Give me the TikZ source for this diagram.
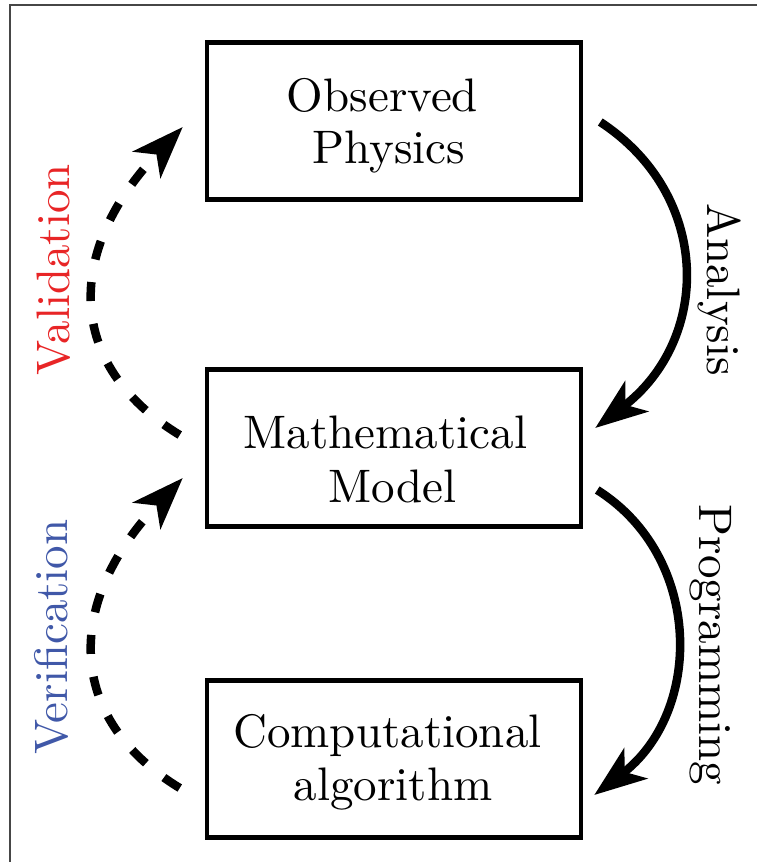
\documentclass[tikz,border=0pt]{standalone}
\usepackage{fontspec}
\setmainfont{lmroman10-regular.otf}
\usetikzlibrary{arrows.meta,calc}
\definecolor{valred}{RGB}{232,37,38}
\definecolor{verblue}{RGB}{64,88,168}
\definecolor{framegray}{RGB}{70,70,70}
\tikzset{
  box/.style={draw, line width=4.5pt, minimum width=374pt, minimum height=157pt, inner sep=0pt},
  lbl/.style={inner sep=0pt, anchor=base, font=\fontsize{47}{53}\selectfont},
  sidelbl/.style={inner sep=0pt, anchor=base, font=\fontsize{47}{53}\selectfont},
  solidarrow/.style={line width=8.5pt, -{Stealth[length=52pt, width=38pt, inset=14pt]}},
  dasharrow/.style={line width=8.5pt, dash pattern=on 19pt off 23pt, -{Stealth[length=52pt, width=38pt, inset=14pt]}},
}
\begin{document}
\begin{tikzpicture}[x=1pt,y=-1pt]
\useasboundingbox (0,0) rectangle (757,862);
\draw[framegray, line width=2pt] (10,870) -- (10,5) -- (765,5);

\node[box] (obs) at (394,121) {};
\node[box] (mat) at (394,448) {};
\node[box] (com) at (394,759) {};

\node[lbl] (obs1) at (382.5,111) {Observed};
\node[lbl] (obs2) at (389,163) {Physics};
\node[lbl] (mat1) at (385.5,448) {Mathematical};
\node[lbl] (mat2) at (392.5,502) {Model};
\node[lbl] (com1) at (387.5,747) {Computational};
\node[lbl] (com2) at (393,800) {algorithm};

\draw[solidarrow] ($(obs.east)+(17,1)$) .. controls ($(obs.east)+(128.5,74)$) and ($(mat.east)+(128.5,-109)$) .. ($(mat.east)+(12,-20)$);
\draw[solidarrow] ($(mat.east)+(14,42)$) .. controls ($(mat.east)+(120,109)$) and ($(com.east)+(120,-47)$) .. ($(com.east)+(11,36)$);

\draw[dasharrow] ($(mat.west)+(-25,-13)$) .. controls ($(mat.west)+(-140,-83)$) and ($(obs.west)+(-140,129.5)$) .. ($(obs.west)+(-22,6)$);
\draw[dasharrow] ($(com.west)+(-25,29)$) .. controls ($(com.west)+(-140,-41)$) and ($(mat.west)+(-140,153.5)$) .. ($(mat.west)+(-22,30)$);

\node[sidelbl, rotate=-90] (ana) at (707,289.5) {Analysis};
\node[sidelbl, rotate=-90] (prog) at (699,645) {Programming};
\node[sidelbl, rotate=90, text=valred] (val) at (69,270) {Validation};
\node[sidelbl, rotate=90, text=verblue] (ver) at (67,637) {Verification};
\end{tikzpicture}
\end{document}
